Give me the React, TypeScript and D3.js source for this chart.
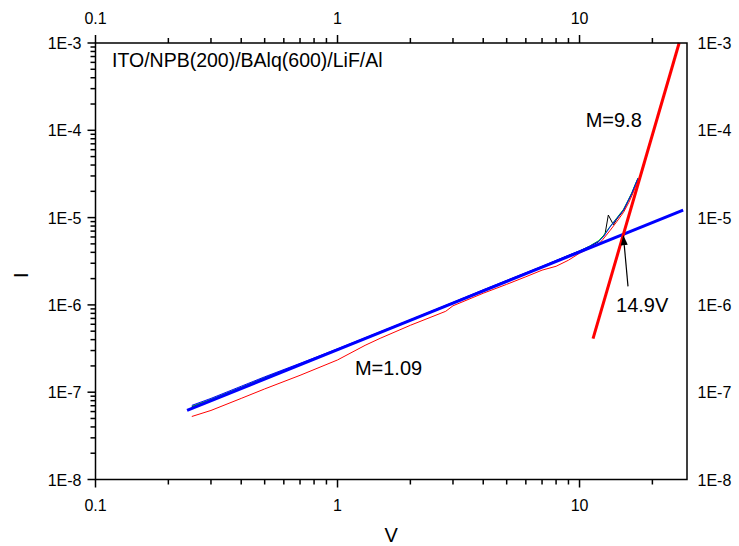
import React, { useEffect, useRef } from 'react';
import * as d3 from 'd3';

const voltsBlue = [0.25, 0.3, 0.4, 0.5, 0.7, 1, 1.5, 2, 3, 4, 5, 7, 9, 10, 11, 12, 12.54, 13.37, 14.25, 15.18, 15.91, 16.43, 16.96, 17.45];
const currentBlue = [7.06e-8, 8.49e-8, 1.17e-7, 1.5e-7, 2.14e-7, 3.14e-7, 4.92e-7, 6.75e-7, 1.07e-6, 1.49e-6, 1.91e-6, 2.77e-6, 3.71e-6, 4.17e-6, 4.7e-6, 5.36e-6, 6.01e-6, 7.82e-6, 9.77e-6, 1.216e-5, 1.58e-5, 1.89e-5, 2.35e-5, 2.83e-5];

const voltsGreen = [0.25, 0.3, 0.4, 0.5, 0.7, 1, 1.5, 2, 3, 4, 5, 7, 9, 10, 11, 12, 12.54, 13.37, 14.25, 15.18, 15.91, 16.43, 16.96, 17.45];
const currentGreen = [6.9e-8, 8.3e-8, 1.14e-7, 1.47e-7, 2.1e-7, 3.1e-7, 4.85e-7, 6.7e-7, 1.06e-6, 1.47e-6, 1.89e-6, 2.74e-6, 3.68e-6, 4.15e-6, 4.72e-6, 5.45e-6, 6.2e-6, 7.9e-6, 9.9e-6, 1.24e-5, 1.6e-5, 1.92e-5, 2.38e-5, 2.85e-5];

const voltsBlack = [0.25, 0.3, 0.4, 0.5, 0.7, 1, 1.5, 2, 3, 4, 5, 7, 9, 10, 11, 12, 12.75, 13.15, 13.8, 14.25, 15.18, 15.91, 16.43, 16.96, 17.45];
const currentBlack = [6.8e-8, 8.2e-8, 1.13e-7, 1.46e-7, 2.08e-7, 3.08e-7, 4.85e-7, 6.65e-7, 1.05e-6, 1.46e-6, 1.88e-6, 2.73e-6, 3.66e-6, 4.12e-6, 4.65e-6, 5.3e-6, 6.5e-6, 1.07e-5, 8.3e-6, 9.6e-6, 1.2e-5, 1.56e-5, 1.87e-5, 2.33e-5, 2.8e-5];

const voltsRed = [0.25, 0.3, 0.4, 0.5, 0.7, 1, 1.3, 1.5, 2, 2.8, 3, 4, 5, 6, 7, 8, 9, 10, 11, 12, 12.5, 13.4, 14.3, 15.2, 16, 16.5, 17, 17.4];
const currentRed = [5.27e-8, 6.18e-8, 8.49e-8, 1.09e-7, 1.56e-7, 2.34e-7, 3.44e-7, 4.14e-7, 5.84e-7, 8.45e-7, 9.77e-7, 1.36e-6, 1.72e-6, 2.1e-6, 2.5e-6, 2.77e-6, 3.25e-6, 3.91e-6, 4.46e-6, 4.96e-6, 5.65e-6, 7.17e-6, 9.1e-6, 1.15e-5, 1.5e-5, 1.81e-5, 2.23e-5, 2.69e-5];

// fitted lines
const fitLowV = [0.239, 26.8];
const fitLowI = [6.18e-8, 1.216e-5];
const fitHighV = [11.37, 25.8];
const fitHighI = [4.11e-7, 1.0e-3];

// arrow to the crossing point (tail, head)
const arrowV = [15.86, 15.17];
const arrowI = [1.63e-6, 6.3e-6];

const xMajor = [0.1, 1, 10];
const xLabels = ['0.1', '1', '10'];
const yMajor = [1e-8, 1e-7, 1e-6, 1e-5, 1e-4, 1e-3];
const yLabels = ['1E-8', '1E-7', '1E-6', '1E-5', '1E-4', '1E-3'];

const FONT = '"Liberation Sans", Arial, sans-serif';

export default function App() {
  const ref = useRef<SVGSVGElement>(null);

  useEffect(() => {
    const svg = d3.select(ref.current);
    svg.selectAll('*').remove();

    const left = 95.5, right = 687, top = 43, bottom = 479.5;
    const x = d3.scaleLog().domain([0.1, 27.8]).range([left, right]);
    const y = d3.scaleLog().domain([1e-8, 1e-3]).range([bottom, top]);

    const xMinor: number[] = [];
    xMajor.forEach(d => { for (let m = 2; m <= 9; m++) if (d * m <= 27.8) xMinor.push(d * m); });
    const yMinor: number[] = [];
    yMajor.slice(0, -1).forEach(d => { for (let m = 2; m <= 9; m++) yMinor.push(d * m); });

    svg.append('defs').append('clipPath').attr('id', 'plot')
      .append('rect').attr('x', left).attr('y', top - 1).attr('width', right - left).attr('height', bottom - top + 1);

    const line = d3.line<[number, number]>().x(d => x(d[0])).y(d => y(d[1]));
    const pts = (vs: number[], is: number[]) => vs.map((v, i) => [v, is[i]] as [number, number]);

    const data = svg.append('g').attr('clip-path', 'url(#plot)');
    const series = [
      { v: voltsBlack, i: currentBlack, c: '#000000', w: 1 },
      { v: voltsRed, i: currentRed, c: '#ff0000', w: 1 },
      { v: voltsGreen, i: currentGreen, c: '#00dd00', w: 1 },
      { v: voltsBlue, i: currentBlue, c: '#0000ff', w: 1 },
      { v: fitLowV, i: fitLowI, c: '#0000ff', w: 3 },
      { v: fitHighV, i: fitHighI, c: '#ff0000', w: 3 },
    ];
    series.forEach(s => {
      data.append('path').attr('d', line(pts(s.v, s.i)))
        .attr('fill', 'none').attr('stroke', s.c).attr('stroke-width', s.w)
        .attr('stroke-linejoin', 'round');
    });

    // frame
    svg.append('rect').attr('x', left).attr('y', top).attr('width', right - left).attr('height', bottom - top)
      .attr('fill', 'none').attr('stroke', '#000').attr('stroke-width', 1.5);

    const ticks = svg.append('g').attr('stroke', '#000').attr('stroke-width', 1.5);
    xMajor.forEach(d => {
      ticks.append('line').attr('x1', x(d)).attr('x2', x(d)).attr('y1', bottom).attr('y2', bottom + 8);
      ticks.append('line').attr('x1', x(d)).attr('x2', x(d)).attr('y1', top).attr('y2', top - 8);
    });
    xMinor.forEach(d => {
      ticks.append('line').attr('x1', x(d)).attr('x2', x(d)).attr('y1', bottom).attr('y2', bottom + 5);
      ticks.append('line').attr('x1', x(d)).attr('x2', x(d)).attr('y1', top).attr('y2', top - 5);
    });
    yMajor.forEach(d => {
      ticks.append('line').attr('x1', left - 8).attr('x2', left).attr('y1', y(d)).attr('y2', y(d));
    });
    yMinor.forEach(d => {
      ticks.append('line').attr('x1', left - 5).attr('x2', left).attr('y1', y(d)).attr('y2', y(d));
    });

    const txt = svg.append('g').attr('font-family', FONT).attr('fill', '#000');
    xMajor.forEach((d, k) => {
      txt.append('text').attr('x', x(d)).attr('y', 511).attr('text-anchor', 'middle').attr('font-size', 16).text(xLabels[k]);
      txt.append('text').attr('x', x(d)).attr('y', 24).attr('text-anchor', 'middle').attr('font-size', 16).text(xLabels[k]);
    });
    yMajor.forEach((d, k) => {
      txt.append('text').attr('x', left - 14).attr('y', y(d) + 6).attr('text-anchor', 'end').attr('font-size', 16).text(yLabels[k]);
      txt.append('text').attr('x', right + 10.5).attr('y', y(d) + 6).attr('text-anchor', 'start').attr('font-size', 16).text(yLabels[k]);
    });

    txt.append('text').attr('x', (left + right) / 2).attr('y', 542).attr('text-anchor', 'middle').attr('font-size', 20).text('V');
    txt.append('text').attr('transform', `translate(28,${(top + bottom) / 2 + 14}) rotate(-90)`)
      .attr('text-anchor', 'middle').attr('font-size', 20).text('I');

    // annotations
    txt.append('text').attr('x', x(0.117)).attr('y', y(5.27e-4)).attr('font-size', 19.5).text('ITO/NPB(200)/BAlq(600)/LiF/Al');
    txt.append('text').attr('x', x(10.6)).attr('y', y(1.08e-4)).attr('font-size', 20).text('M=9.8');
    txt.append('text').attr('x', x(1.18)).attr('y', y(1.56e-7)).attr('font-size', 20).text('M=1.09');
    txt.append('text').attr('x', x(14.15)).attr('y', y(8.29e-7)).attr('font-size', 20).text('14.9V');

    // arrow
    const x0 = x(arrowV[0]), y0 = y(arrowI[0]), x1 = x(arrowV[1]), y1 = y(arrowI[1]);
    const ang = Math.atan2(y1 - y0, x1 - x0);
    const len = 10, half = 3.5;
    const bx = x1 - len * Math.cos(ang), by = y1 - len * Math.sin(ang);
    svg.append('line').attr('x1', x0).attr('y1', y0).attr('x2', bx).attr('y2', by)
      .attr('stroke', '#000').attr('stroke-width', 1.2);
    svg.append('polygon')
      .attr('points', [
        [x1, y1],
        [bx + half * Math.sin(ang), by - half * Math.cos(ang)],
        [bx - half * Math.sin(ang), by + half * Math.cos(ang)],
      ].map(p => p.join(',')).join(' '))
      .attr('fill', '#000');
  }, []);

  return (
    <svg ref={ref} width={739} height={546}
      style={{ position: 'absolute', left: 0, top: 0, background: '#fff', display: 'block' }} />
  );
}
